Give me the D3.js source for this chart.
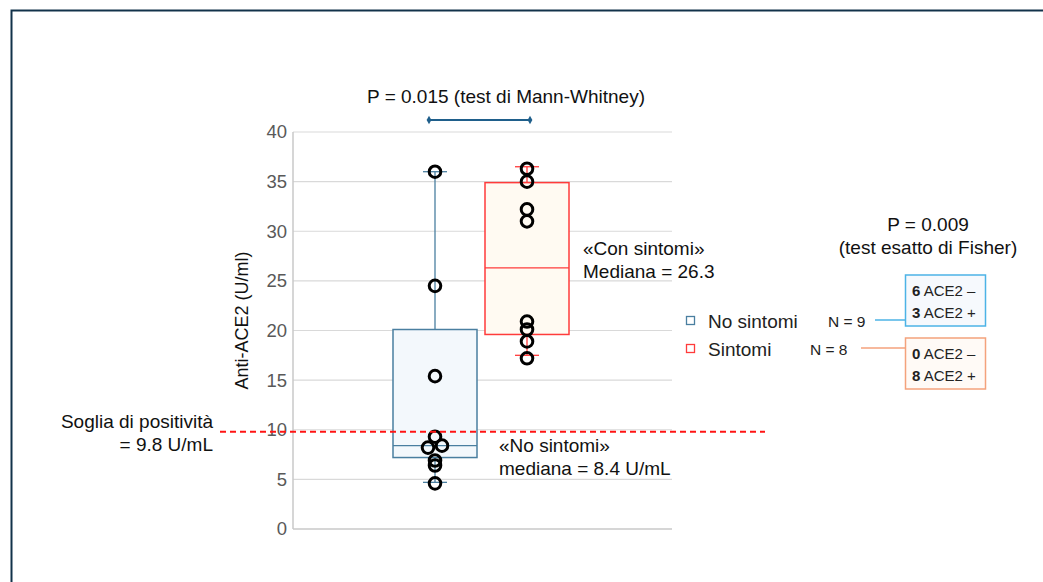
<!DOCTYPE html>
<html>
<head>
<meta charset="utf-8">
<script src="https://cdn.jsdelivr.net/npm/d3@7"></script>
<style>
  body { margin: 0; background: #fff; }
  svg text { font-family: "Liberation Sans", Arial, sans-serif; }
</style>
</head>
<body>
<div id="chart"></div>
<script>
// groups and raw values
var groups = ["No sintomi", "Sintomi"];
var noSintomiValues = [36.0, 24.5, 15.4, 9.3, 8.4, 8.2, 6.9, 6.4, 4.6];
var sintomiValues = [36.3, 35.0, 32.2, 31.0, 20.9, 20.1, 18.9, 17.2];

// box summaries
var whiskerHigh = [36.0, 36.5];
var q3 = [20.1, 34.9];
var medians = [8.4, 26.3];
var q1 = [7.2, 19.6];
var whiskerLow = [4.7, 17.5];

var yTicks = [0, 5, 10, 15, 20, 25, 30, 35, 40];
var threshold = 9.8;
var counts = [9, 8];
var fisherNeg = [6, 0];
var fisherPos = [3, 8];

var margin = {top: 132, right: 371, bottom: 53, left: 293},
    width = 1043 - margin.left - margin.right,
    height = 582 - margin.top - margin.bottom;

var svg = d3.select("#chart")
  .append("svg")
    .attr("width", 1043)
    .attr("height", 582);

// frame
svg.append("path")
  .attr("d", "M11.5,582 L11.5,10.5 L1043,10.5")
  .attr("fill", "none")
  .attr("stroke", "#12324a")
  .attr("stroke-width", 2);

var g = svg.append("g")
  .attr("transform", "translate(" + margin.left + "," + margin.top + ")");

var y = d3.scaleLinear().domain([0, 40]).range([height, 0]);
var x = d3.scalePoint().domain(groups).range([142, 234]);
var boxW = 84;

var blue = "#4a7fa0", red = "#ff3b3b";
var colors = [blue, red];
var fills = ["#f3f8fc", "#fffaf2"];

// gridlines
g.selectAll(".grid").data(yTicks.slice(1)).enter()
  .append("line")
    .attr("x1", 0).attr("x2", width)
    .attr("y1", function(d){ return y(d); })
    .attr("y2", function(d){ return y(d); })
    .attr("stroke", "#d9d9d9")
    .attr("stroke-width", 1.2);

// axes
g.append("line").attr("x1", 0).attr("x2", 0).attr("y1", 0).attr("y2", height)
  .attr("stroke", "#c8c8c8").attr("stroke-width", 1.5);
g.append("line").attr("x1", 0).attr("x2", width).attr("y1", height).attr("y2", height)
  .attr("stroke", "#c8c8c8").attr("stroke-width", 1.5);

var yAxis = g.append("g")
  .call(d3.axisLeft(y).tickValues(yTicks).tickSize(0).tickPadding(6));
yAxis.select(".domain").remove();
yAxis.selectAll("text")
  .style("font-size", "18.5px")
  .style("fill", "#595959")
  .style("font-family", "'Liberation Sans', Arial, sans-serif");

// y title
g.append("text")
  .attr("transform", "translate(-45," + (height / 2 - 10) + ") rotate(-90)")
  .attr("text-anchor", "middle")
  .style("font-size", "18px")
  .style("fill", "#111")
  .text("Anti-ACE2 (U/ml)");

// boxes
groups.forEach(function(grp, i) {
  var cx = x(grp);
  var col = colors[i];
  g.append("line")
    .attr("x1", cx).attr("x2", cx)
    .attr("y1", y(whiskerHigh[i])).attr("y2", y(whiskerLow[i]))
    .attr("stroke", col).attr("stroke-width", 1.3);
  [whiskerHigh[i], whiskerLow[i]].forEach(function(v) {
    g.append("line")
      .attr("x1", cx - 12).attr("x2", cx + 12)
      .attr("y1", y(v)).attr("y2", y(v))
      .attr("stroke", col).attr("stroke-width", 1.3);
  });
  g.append("rect")
    .attr("x", cx - boxW / 2)
    .attr("y", y(q3[i]))
    .attr("width", boxW)
    .attr("height", y(q1[i]) - y(q3[i]))
    .attr("fill", fills[i])
    .attr("stroke", col)
    .attr("stroke-width", 1.5);
  g.append("line")
    .attr("x1", cx - boxW / 2).attr("x2", cx + boxW / 2)
    .attr("y1", y(medians[i])).attr("y2", y(medians[i]))
    .attr("stroke", col).attr("stroke-width", 1.3);
});

// threshold line
svg.append("line")
  .attr("x1", 220).attr("x2", 765)
  .attr("y1", margin.top + y(threshold))
  .attr("y2", margin.top + y(threshold))
  .attr("stroke", "#ff1414")
  .attr("stroke-width", 2)
  .attr("stroke-dasharray", "6,4");

// points (values tied with the median are dodged sideways)
[noSintomiValues, sintomiValues].forEach(function(vals, i) {
  var side = -1;
  g.selectAll(".pt" + i).data(vals).enter()
    .append("circle")
      .attr("cx", function(d) {
        if (Math.abs(d - medians[i]) <= 0.25) { side = -side; return x(groups[i]) + side * 7; }
        return x(groups[i]);
      })
      .attr("cy", function(d){ return y(d); })
      .attr("r", 5.8)
      .attr("fill", "none")
      .attr("stroke", "#000")
      .attr("stroke-width", 3);
});

// Mann-Whitney bracket
var by = 120;
var bx1 = margin.left + x(groups[0]) - 6, bx2 = margin.left + x(groups[1]) + 3;
svg.append("line")
  .attr("x1", bx1).attr("x2", bx2).attr("y1", by).attr("y2", by)
  .attr("stroke", "#1f5f8b").attr("stroke-width", 1.8);
[bx1, bx2].forEach(function(px) {
  svg.append("path")
    .attr("d", d3.symbol().type(d3.symbolDiamond).size(20)())
    .attr("transform", "translate(" + px + "," + by + ")")
    .attr("fill", "#1f5f8b");
});
svg.append("text")
  .attr("x", 506).attr("y", 103)
  .attr("text-anchor", "middle")
  .style("font-size", "19px")
  .style("fill", "#111")
  .text("P = 0.015 (test di Mann-Whitney)");

// annotations
function lines(xp, yp, arr, anchor) {
  var t = svg.append("text")
    .attr("x", xp).attr("y", yp)
    .attr("text-anchor", anchor || "start")
    .style("font-size", "19px")
    .style("fill", "#111");
  arr.forEach(function(s, k) {
    t.append("tspan").attr("x", xp).attr("dy", k === 0 ? 0 : 22.5).text(s);
  });
}
lines(213, 428, ["Soglia di positività", "= 9.8 U/mL"], "end");
lines(499, 452, ["«No sintomi»", "mediana = " + medians[0] + " U/mL"]);
lines(583, 255, ["«Con sintomi»", "Mediana = " + medians[1]]);
lines(928, 231, ["P = 0.009", "(test esatto di Fisher)"], "middle");

// legend
var legY = [321, 349];
var nX = [828, 810];
var linkX = [875, 861];
var linkCol = ["#4cb3e6", "#f4a27c"];
var boxCol = ["#4cb3e6", "#f4a27c"];
var boxFill = ["#f6f9fd", "#fffaf6"];
var boxTop = [275, 338];
groups.forEach(function(grp, i) {
  svg.append("rect")
    .attr("x", 686.5).attr("y", legY[i] - 4.5)
    .attr("width", 8).attr("height", 8)
    .attr("fill", "#fff")
    .attr("stroke", colors[i]).attr("stroke-width", 1.3);
  svg.append("text")
    .attr("x", 708).attr("y", legY[i] + 7)
    .style("font-size", "19px")
    .style("fill", "#222")
    .text(grp);
  svg.append("text")
    .attr("x", nX[i]).attr("y", legY[i] + 5.5)
    .style("font-size", "15.5px")
    .style("fill", "#222")
    .text("N = " + counts[i]);
  svg.append("line")
    .attr("x1", linkX[i]).attr("x2", 905)
    .attr("y1", legY[i] - 1).attr("y2", legY[i] - 1)
    .attr("stroke", linkCol[i]).attr("stroke-width", 1.5);
  svg.append("rect")
    .attr("x", 905.5).attr("y", boxTop[i])
    .attr("width", 80).attr("height", 51)
    .attr("fill", boxFill[i])
    .attr("stroke", boxCol[i]).attr("stroke-width", 1.5);
  var t1 = svg.append("text").attr("x", 912).attr("y", boxTop[i] + 21)
    .style("font-size", "15px").style("fill", "#222");
  t1.append("tspan").style("font-weight", "bold").text(fisherNeg[i]);
  t1.append("tspan").text(" ACE2 –");
  var t2 = svg.append("text").attr("x", 912).attr("y", boxTop[i] + 43)
    .style("font-size", "15px").style("fill", "#222");
  t2.append("tspan").style("font-weight", "bold").text(fisherPos[i]);
  t2.append("tspan").text(" ACE2 +");
});
</script>
</body>
</html>
